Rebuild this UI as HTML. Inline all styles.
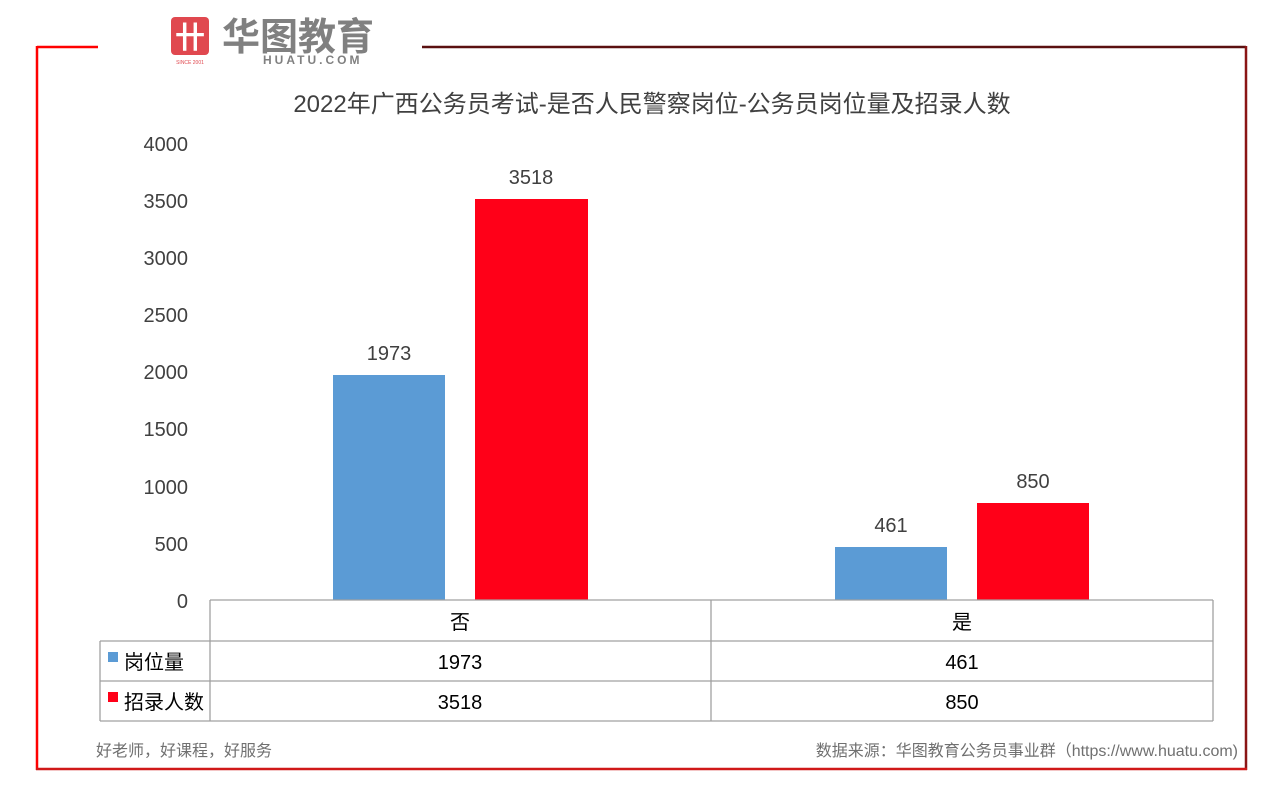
<!DOCTYPE html>
<html><head><meta charset="utf-8"><style>
body{margin:0;background:#fff;}
svg text{font-family:"Liberation Sans","Noto Sans CJK SC",sans-serif;}
</style></head><body>
<svg width="1268" height="783" xmlns="http://www.w3.org/2000/svg">
<rect width="1268" height="783" fill="#fff"/>
<line x1="37" y1="47" x2="98" y2="47" stroke="#f00" stroke-width="2.5"/>
<line x1="37" y1="46" x2="37" y2="770" stroke="#f00" stroke-width="2.5"/>
<line x1="422" y1="47" x2="1246" y2="47" stroke="#5a1010" stroke-width="2.5"/>
<line x1="1246" y1="46" x2="1246" y2="770" stroke="#8a1515" stroke-width="2.5"/>
<line x1="36" y1="769" x2="1247" y2="769" stroke="#d01818" stroke-width="2.5"/>
<rect x="171" y="17" width="38" height="38" rx="4" fill="#e0484f"/>
<text x="190" y="48" font-size="30" font-weight="bold" fill="#fff" text-anchor="middle">卄</text>
<text x="190" y="64" font-size="5" fill="#e0484f" text-anchor="middle">SINCE 2001</text>
<text x="222" y="50" font-size="38" font-weight="bold" fill="#808080">华图教育</text>
<text x="263" y="64" font-size="12" font-weight="bold" fill="#808080" letter-spacing="3">HUATU.COM</text>
<text x="652" y="112" font-size="24" fill="#404040" text-anchor="middle">2022年广西公务员考试-是否人民警察岗位-公务员岗位量及招录人数</text>
<g font-size="20" fill="#404040" text-anchor="end">
<text x="188" y="151">4000</text>
<text x="188" y="208">3500</text>
<text x="188" y="265">3000</text>
<text x="188" y="322">2500</text>
<text x="188" y="379">2000</text>
<text x="188" y="436">1500</text>
<text x="188" y="494">1000</text>
<text x="188" y="551">500</text>
<text x="188" y="608">0</text>
</g>
<rect x="333" y="375" width="112" height="225" fill="#5b9bd5"/>
<rect x="475" y="199" width="113" height="401" fill="#ff0018"/>
<rect x="835" y="547" width="112" height="53" fill="#5b9bd5"/>
<rect x="977" y="503" width="112" height="97" fill="#ff0018"/>
<g font-size="20" fill="#404040" text-anchor="middle">
<text x="389" y="360">1973</text>
<text x="531" y="184">3518</text>
<text x="891" y="532">461</text>
<text x="1033" y="488">850</text>
</g>
<g stroke="#a0a0a0" stroke-width="1.3" fill="none">
<line x1="210" y1="600" x2="1213" y2="600"/>
<line x1="100" y1="641" x2="1213" y2="641"/>
<line x1="100" y1="681" x2="1213" y2="681"/>
<line x1="100" y1="721" x2="1213" y2="721"/>
<line x1="210" y1="600" x2="210" y2="721"/>
<line x1="711" y1="600" x2="711" y2="721"/>
<line x1="1213" y1="600" x2="1213" y2="721"/>
<line x1="100" y1="641" x2="100" y2="721"/>
</g>
<g font-size="20" fill="#000" text-anchor="middle">
<text x="460" y="629">否</text>
<text x="962" y="629">是</text>
<text x="460" y="669">1973</text>
<text x="962" y="669">461</text>
<text x="460" y="709">3518</text>
<text x="962" y="709">850</text>
</g>
<rect x="108" y="652" width="10" height="10" fill="#5b9bd5"/>
<rect x="108" y="692" width="10" height="10" fill="#ff0018"/>
<text x="124" y="669" font-size="20" fill="#000">岗位量</text>
<text x="124" y="709" font-size="20" fill="#000">招录人数</text>
<text x="96" y="756" font-size="16" fill="#707070">好老师，好课程，好服务</text>
<text x="1238" y="756" font-size="16" fill="#707070" text-anchor="end">数据来源：华图教育公务员事业群（https://www.huatu.com)</text>
</svg>
</body></html>
